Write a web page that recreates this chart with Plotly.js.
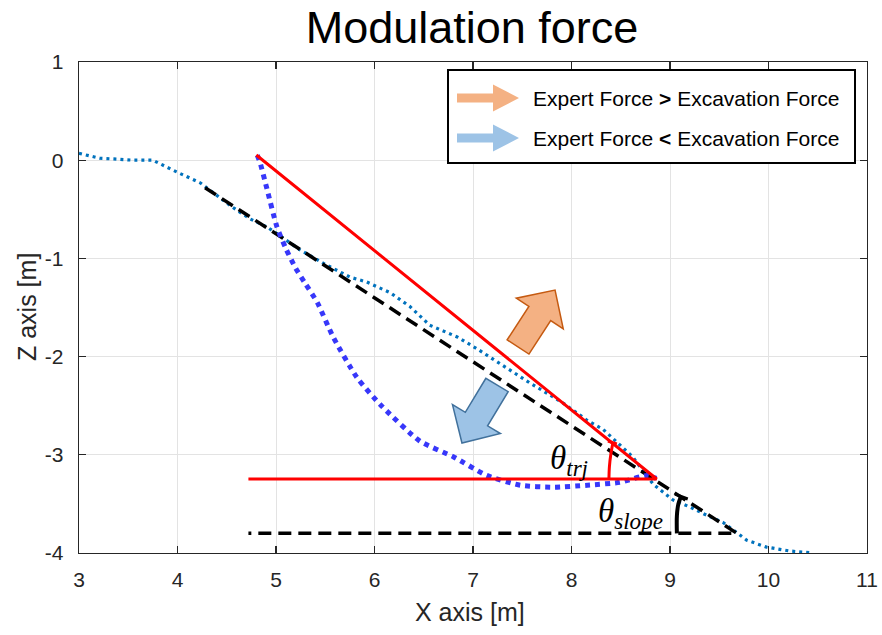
<!DOCTYPE html>
<html>
<head>
<meta charset="utf-8">
<script src="https://cdn.plot.ly/plotly-3.0.1.min.js"></script>
<style>html,body{margin:0;padding:0;background:#fff;}#chart{width:882px;height:635px;}</style>
</head>
<body>
<div id="chart"></div>
<script>
// ---- data ----
const terrainX = [3.00, 3.21, 3.40, 3.55, 3.75, 3.95, 4.23, 4.56, 4.74, 4.91, 5.24, 5.50, 5.75, 5.92, 6.16, 6.36, 6.56, 6.84, 7.04, 7.27, 7.58, 7.91, 8.16, 8.32, 8.62, 8.83, 9.03, 9.20, 9.34, 9.54, 9.78, 9.98, 10.22, 10.45];
const terrainZ = [0.07, 0.02, 0.01, 0.00, 0.00, -0.10, -0.23, -0.48, -0.60, -0.68, -0.91, -1.06, -1.19, -1.24, -1.35, -1.49, -1.68, -1.80, -1.92, -2.07, -2.27, -2.47, -2.65, -2.74, -3.02, -3.30, -3.46, -3.53, -3.60, -3.69, -3.87, -3.94, -3.98, -4.00];

const trajX = [4.81, 4.84, 4.91, 5.01, 5.10, 5.20, 5.30, 5.42, 5.58, 5.82, 6.06, 6.46, 6.80, 7.14, 7.48, 7.81, 8.16, 8.49, 8.77, 8.86];
const trajZ = [0.05, -0.03, -0.30, -0.68, -0.90, -1.10, -1.26, -1.45, -1.80, -2.21, -2.49, -2.86, -3.02, -3.21, -3.31, -3.33, -3.31, -3.28, -3.21, -3.24];

const redX = [4.80, 8.865, 4.72];
const redZ = [0.053, -3.246, -3.246];

const slopeX = [4.28, 9.68, 4.72];
const slopeZ = [-0.28, -3.80, -3.80];

const redArcX = [8.38, 8.385, 8.40, 8.42];
const redArcZ = [-3.246, -3.12, -2.99, -2.88];
const redCapX = [8.37, 8.46];
const redCapZ = [-2.86, -2.89];

const blackArcX = [9.07, 9.07, 9.085, 9.11];
const blackArcZ = [-3.80, -3.62, -3.50, -3.43];
const blackCapX = [9.05, 9.18];
const blackCapZ = [-3.40, -3.45];

const xTicks = [3, 4, 5, 6, 7, 8, 9, 10, 11];
const zTicks = [-4, -3, -2, -1, 0, 1];

const legendLabels = ['Expert Force <b>></b> Excavation Force', 'Expert Force <b><</b> Excavation Force'];

// ---- geometry helpers (plot area matches reference pixels) ----
const L = 79, T = 62, W = 788, H = 491;
const XR = [3, 11], ZR = [-4, 1];
const px2x = p => XR[0] + (p - L) / W * (XR[1] - XR[0]);
const py2z = p => ZR[1] - (p - T) / H * (ZR[1] - ZR[0]);
const x2px = x => L + (x - XR[0]) / (XR[1] - XR[0]) * W;
const z2py = z => T + (ZR[1] - z) / (ZR[1] - ZR[0]) * H;

function arrowPath(t0, t1, sw, hw, hl) {
  const dx = t1[0] - t0[0], dy = t1[1] - t0[1];
  const len = Math.hypot(dx, dy), ux = dx / len, uy = dy / len, nx = -uy, ny = ux;
  const bx = t1[0] - ux * hl, by = t1[1] - uy * hl;
  const pts = [
    [t0[0] + nx * sw / 2, t0[1] + ny * sw / 2],
    [bx + nx * sw / 2, by + ny * sw / 2],
    [bx + nx * hw / 2, by + ny * hw / 2],
    [t1[0], t1[1]],
    [bx - nx * hw / 2, by - ny * hw / 2],
    [bx - nx * sw / 2, by - ny * sw / 2],
    [t0[0] - nx * sw / 2, t0[1] - ny * sw / 2]
  ];
  return 'M ' + pts.map(p => px2x(p[0]).toFixed(4) + ',' + py2z(p[1]).toFixed(4)).join(' L ') + ' Z';
}

const orangeTail = [x2px(7.457), z2py(-1.902)], orangeTip = [x2px(7.833), z2py(-1.322)];
const blueTail = [x2px(7.244), z2py(-2.289)], blueTip = [x2px(6.888), z2py(-2.88)];

const ORANGE = 'rgb(244,177,131)', ORANGE_EDGE = 'rgb(197,90,17)';
const BLUE = 'rgb(157,195,230)', BLUE_EDGE = 'rgb(65,113,156)';
const AX = '#262626';
const FONT = 'Liberation Sans, Arial, Helvetica, sans-serif';
const SERIF = 'Liberation Serif, DejaVu Serif, serif';

const traces = [
  {x: terrainX, y: terrainZ, mode: 'lines', line: {color: 'rgb(0,114,189)', width: 3.2, dash: '3px,4px'}, hoverinfo: 'skip'},
  {x: slopeX, y: slopeZ, mode: 'lines', line: {color: 'black', width: 3.5, dash: '13px,7px'}, hoverinfo: 'skip'},
  {x: trajX, y: trajZ, mode: 'lines', line: {color: 'rgb(55,55,250)', width: 5, dash: '5px,5px', shape: 'spline', smoothing: 0.6}, hoverinfo: 'skip'},
  {x: redX, y: redZ, mode: 'lines', line: {color: 'rgb(255,0,0)', width: 3}, hoverinfo: 'skip'},
  {x: redArcX, y: redArcZ, mode: 'lines', line: {color: 'rgb(255,0,0)', width: 3, shape: 'spline'}, hoverinfo: 'skip'},
  {x: redCapX, y: redCapZ, mode: 'lines', line: {color: 'rgb(255,0,0)', width: 3}, hoverinfo: 'skip'},
  {x: blackArcX, y: blackArcZ, mode: 'lines', line: {color: 'black', width: 4, shape: 'spline'}, hoverinfo: 'skip'},
  {x: blackCapX, y: blackCapZ, mode: 'lines', line: {color: 'black', width: 3}, hoverinfo: 'skip'}
];

const legendRows = [98, 138];
const shapes = [
  {type: 'path', xref: 'x', yref: 'y', path: arrowPath(orangeTail, orangeTip, 26, 56, 28), fillcolor: ORANGE, line: {color: ORANGE_EDGE, width: 1.5}, layer: 'above'},
  {type: 'path', xref: 'x', yref: 'y', path: arrowPath(blueTail, blueTip, 26, 56, 28), fillcolor: BLUE, line: {color: BLUE_EDGE, width: 1.5}, layer: 'above'},
  {type: 'rect', xref: 'x', yref: 'y', x0: px2x(448), x1: px2x(855), y0: py2z(163), y1: py2z(70), fillcolor: 'white', line: {color: 'black', width: 2}, layer: 'above'},
  {type: 'path', xref: 'x', yref: 'y', path: arrowPath([457, legendRows[0]], [519, legendRows[0]], 9, 27, 26), fillcolor: ORANGE, line: {width: 0}, layer: 'above'},
  {type: 'path', xref: 'x', yref: 'y', path: arrowPath([457, legendRows[1]], [519, legendRows[1]], 9, 27, 26), fillcolor: BLUE, line: {width: 0}, layer: 'above'}
];

const annotations = [
  {xref: 'x', yref: 'y', x: px2x(531), y: py2z(legendRows[0]), xanchor: 'left', yanchor: 'middle', showarrow: false, text: legendLabels[0], font: {family: FONT, size: 21, color: 'black'}},
  {xref: 'x', yref: 'y', x: px2x(531), y: py2z(legendRows[1]), xanchor: 'left', yanchor: 'middle', showarrow: false, text: legendLabels[1], font: {family: FONT, size: 21, color: 'black'}},
  {xref: 'x', yref: 'y', x: px2x(569), y: py2z(460), xanchor: 'center', yanchor: 'middle', showarrow: false,
   text: '<i>θ</i><sub><i>trj</i></sub>', font: {family: SERIF, size: 33, color: 'black'}},
  {xref: 'x', yref: 'y', x: px2x(630), y: py2z(513), xanchor: 'center', yanchor: 'middle', showarrow: false,
   text: '<i>θ</i><sub><i>slope</i></sub>', font: {family: SERIF, size: 33, color: 'black'}},
  {xref: 'paper', yref: 'paper', x: (470 - L) / W, y: (T + H - 612) / H, xanchor: 'center', yanchor: 'middle', showarrow: false,
   text: 'X axis [m]', font: {family: FONT, size: 25, color: AX}},
  {xref: 'paper', yref: 'paper', x: (27 - L) / W, y: (T + H - 307) / H, xanchor: 'center', yanchor: 'middle', showarrow: false, textangle: -90,
   text: 'Z axis [m]', font: {family: FONT, size: 25, color: AX}}
];

const axisCommon = {
  showline: true, linecolor: AX, linewidth: 1.3, mirror: 'ticks',
  ticks: 'inside', ticklen: 7, tickwidth: 1.2, tickcolor: AX,
  showgrid: true, gridcolor: '#e3e3e3', gridwidth: 1, zeroline: false,
  tickfont: {family: FONT, size: 21, color: AX}, fixedrange: true
};

const layout = {
  width: 882, height: 635,
  margin: {l: L, r: 882 - L - W, t: T, b: 635 - T - H, pad: 0},
  paper_bgcolor: 'white', plot_bgcolor: 'white',
  showlegend: false,
  title: {text: 'Modulation force', font: {family: FONT, size: 45, color: 'black'}, x: 472 / 882, xanchor: 'center', y: 1 - 27 / 635, yanchor: 'middle'},
  xaxis: Object.assign({}, axisCommon, {range: XR, tickvals: xTicks, ticktext: xTicks.map(String), ticklabelstandoff: 7}),
  yaxis: Object.assign({}, axisCommon, {range: ZR, tickvals: zTicks, ticktext: zTicks.map(String), ticklabelstandoff: 10}),
  shapes: shapes,
  annotations: annotations
};

Plotly.newPlot('chart', traces, layout, {staticPlot: true, displayModeBar: false});
</script>
</body>
</html>
